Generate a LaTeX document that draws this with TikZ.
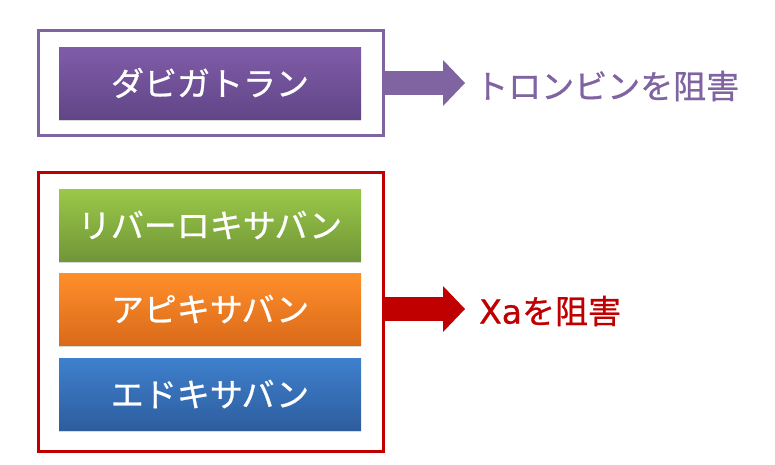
\documentclass[tikz,border=0pt]{standalone}
\usepackage{fontspec}
\setmainfont{Noto Sans CJK JP}[FakeBold=0.8]
\newfontfamily\latinfont{DejaVu Sans}[FakeBold=0.8]
\usetikzlibrary{arrows.meta, shadows}

\definecolor{purpleline}{RGB}{128,100,162}
\definecolor{purpletop}{RGB}{128,92,168}
\definecolor{purplebot}{RGB}{96,70,135}
\definecolor{greentop}{RGB}{155,200,72}
\definecolor{greenbot}{RGB}{112,150,56}
\definecolor{orangetop}{RGB}{255,143,42}
\definecolor{orangebot}{RGB}{218,106,26}
\definecolor{bluetop}{RGB}{62,128,205}
\definecolor{bluebot}{RGB}{46,93,158}
\definecolor{redline}{RGB}{192,0,0}

\tikzset{
  drugbox/.style={minimum width=302pt, minimum height=72pt, inner sep=0pt,
    text=white, font=\fontsize{33}{38}\selectfont,
    drop shadow={opacity=0.3, shadow xshift=0pt, shadow yshift=-2pt}},
  groupbox/.style={draw, line width=3pt, minimum width=345pt, inner sep=0pt},
  effect/.style={anchor=west, inner xsep=10pt, inner ysep=0pt,
    font=\fontsize{33}{38}\selectfont},
  bigarrow/.style={line width=24pt,
    -{Triangle[length=22pt, width=46pt, line width=0pt]}}
}

\begin{document}
\begin{tikzpicture}[x=1pt, y=-1pt]
  \useasboundingbox (0, 0) rectangle (775, 464);
  % anticoagulant groups
  \node[groupbox, draw=purpleline, minimum height=105pt] (thrombin) at (211, 83) {};
  \node[groupbox, draw=redline, minimum height=279pt] (factorxa) at (211, 312) {};
  \node[drugbox, top color=purpletop, bottom color=purplebot] (dabigatran) at (210, 83) {ダビガトラン};
  \node[drugbox, top color=greentop, bottom color=greenbot] (rivaroxaban) at (210, 225) {リバーロキサバン};
  \node[drugbox, top color=orangetop, bottom color=orangebot] (apixaban) at (210, 309) {アピキサバン};
  \node[drugbox, top color=bluetop, bottom color=bluebot] (edoxaban) at (210, 394) {エドキサバン};
  % effects
  \node[effect, text=purpleline] (thrombintext) at (465, 86) {トロンビンを阻害};
  \node[effect, text=redline, inner xsep=14pt] (xatext) at (465, 311) {{\latinfont Xa}を阻害};
  \draw[bigarrow, purpleline] (thrombin.east |- 0, 83) -- (thrombintext.west |- 0, 83);
  \draw[bigarrow, redline] (factorxa.east |- 0, 309) -- (xatext.west |- 0, 309);
\end{tikzpicture}
\end{document}
